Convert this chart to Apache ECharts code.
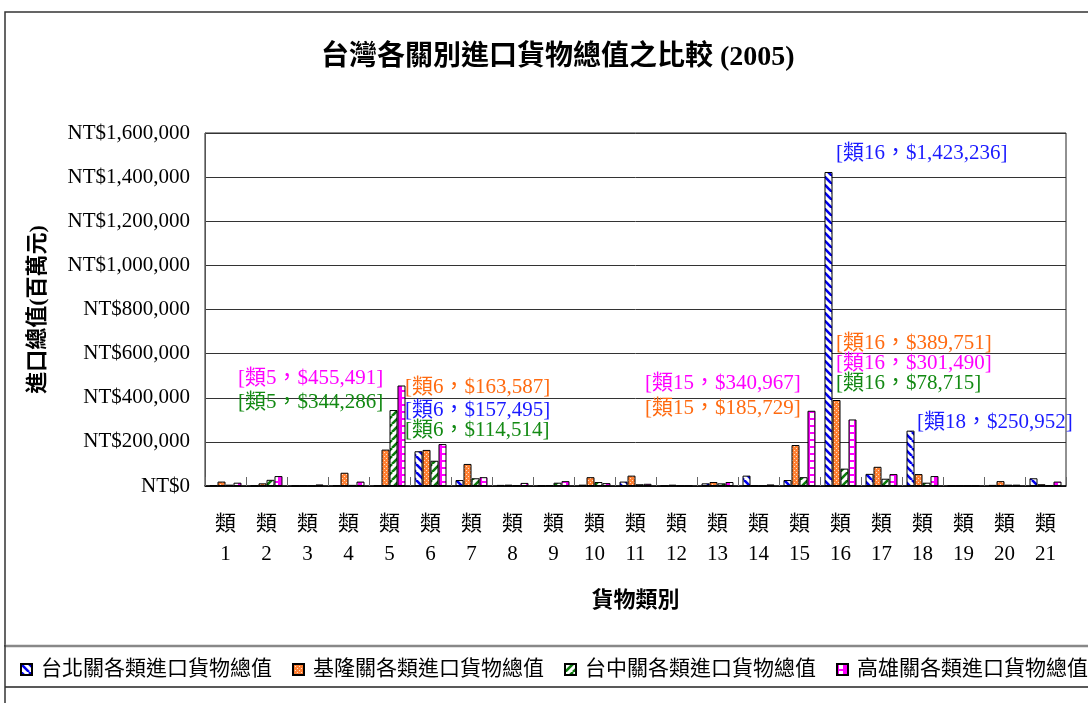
<!DOCTYPE html>
<html>
<head>
<meta charset="utf-8">
<script src="https://cdn.jsdelivr.net/npm/echarts@6/dist/echarts.min.js"></script>
<style>
  html, body { margin: 0; padding: 0; background: #fff; }
  #chart { width: 1088px; height: 703px; }
</style>
</head>
<body>
<div id="chart"></div>
<script>
// Goods categories 1..21
const categories = ['1','2','3','4','5','6','7','8','9','10','11','12','13','14','15','16','17','18','19','20','21'];

// Import value per customs office (NT$ millions)
const taipei    = [4000, 2000, 1000, 4000, 3000, 157495, 27000, 5000, 2000, 6000, 20000, 1000, 12000, 47000, 27000, 1423236, 55000, 250952, 1000, 5000, 35000];
const keelung   = [20000, 12000, 2000, 60000, 165000, 163587, 100000, 6000, 4000, 40000, 47000, 6000, 18000, 2000, 185729, 389751, 87000, 54000, 1000, 22000, 8000];
const taichung  = [6000, 28000, 1000, 5000, 344286, 114514, 35000, 3000, 15000, 18000, 8000, 1000, 12000, 1000, 40000, 78715, 33000, 15000, 1000, 6000, 3000];
const kaohsiung = [15000, 45000, 7000, 20000, 455491, 190000, 40000, 14000, 22000, 13000, 10000, 1000, 18000, 7000, 340967, 301490, 54000, 45000, 1000, 6000, 20000];

const seriesNames = ['台北關各類進口貨物總值', '基隆關各類進口貨物總值', '台中關各類進口貨物總值', '高雄關各類進口貨物總值'];
const labelColors = ['#1a1aff', '#ff6a10', '#138a13', '#ff00ff'];

// Callout placement: [series, category index, text left x, text middle y]
const callouts = [
  [0, 15, 836, 153],
  [1, 15, 836, 343],
  [3, 15, 836, 363],
  [2, 15, 836, 383],
  [3, 4, 238, 378],
  [2, 4, 238, 402],
  [1, 5, 405, 387],
  [0, 5, 405, 410],
  [2, 5, 405, 430],
  [3, 14, 645, 383],
  [1, 14, 645, 408],
  [0, 17, 917, 422]
];

const FONT = "'Liberation Serif', 'Noto Sans CJK TC', serif";

// Fill patterns
function makeCanvas(w, h) {
  const c = document.createElement('canvas');
  c.width = w; c.height = h;
  return c;
}
function stripes(color, down) {
  const c = makeCanvas(8, 8);
  const g = c.getContext('2d');
  g.fillStyle = '#fff'; g.fillRect(0, 0, 8, 8);
  g.strokeStyle = color; g.lineWidth = 2.6;
  for (let x = -8; x <= 8; x += 8) {
    g.beginPath();
    if (down) { g.moveTo(x, 0); g.lineTo(x + 8, 8); }
    else { g.moveTo(x, 8); g.lineTo(x + 8, 0); }
    g.stroke();
  }
  return c;
}
function dots() {
  const c = makeCanvas(4, 4);
  const g = c.getContext('2d');
  g.fillStyle = '#ff8033'; g.fillRect(0, 0, 4, 4);
  g.fillStyle = '#ffe0c8';
  g.fillRect(0, 0, 1, 1); g.fillRect(2, 2, 1, 1);
  return c;
}
function ladder() {
  const c = makeCanvas(8, 7);
  const g = c.getContext('2d');
  g.fillStyle = '#ff00ff'; g.fillRect(0, 0, 8, 7);
  g.fillStyle = '#fff'; g.fillRect(2, 0, 4, 5);
  return c;
}
const fills = [
  { image: stripes('#0000ee', true), repeat: 'repeat' },
  { image: dots(), repeat: 'repeat' },
  { image: stripes('#0a7a0a', false), repeat: 'repeat' },
  { image: ladder(), repeat: 'repeat' }
];

const values = [taipei, keelung, taichung, kaohsiung];

function buildData(si) {
  return values[si].map((v, ci) => {
    const hit = callouts.some(c => c[0] === si && c[1] === ci);
    return hit ? { value: v, label: { show: true } } : v;
  });
}

const series = values.map((vals, si) => ({
  name: seriesNames[si],
  type: 'bar',
  barGap: '0%',
  barCategoryGap: '22%',
  data: buildData(si),
  itemStyle: { color: fills[si], borderColor: '#000', borderWidth: 1 },
  label: {
    show: false,
    color: labelColors[si],
    fontFamily: FONT,
    fontSize: 21,
    formatter: p => '[類' + categories[p.dataIndex] + '，$' + Number(p.value).toLocaleString('en-US') + ']'
  },
  labelLayout: function (params) {
    const c = callouts.find(d => d[0] === si && d[1] === params.dataIndex);
    if (!c) return {};
    return { x: c[2], y: c[3], align: 'left', verticalAlign: 'middle' };
  },
  emphasis: { disabled: true },
  animation: false
}));

const chart = echarts.init(document.getElementById('chart'));
chart.setOption({
  animation: false,
  backgroundColor: '#fff',
  title: {
    text: '台灣各關別進口貨物總值之比較 (2005)',
    left: 316,
    top: 39,
    textStyle: { fontFamily: FONT, fontSize: 28, fontWeight: 'bold', color: '#000' }
  },
  legend: {
    left: 20,
    top: 659,
    width: 1070,
    padding: 0,
    itemWidth: 11,
    itemHeight: 11,
    itemGap: 20,
    icon: 'rect',
    textStyle: { fontFamily: FONT, fontSize: 21, color: '#000', padding: [0, 0, 0, 4] },
    data: seriesNames
  },
  grid: {
    left: 205, right: 22, top: 133, bottom: 217,
    show: true, borderColor: '#222', borderWidth: 1
  },
  xAxis: {
    type: 'category',
    data: categories,
    name: '貨物類別',
    nameLocation: 'middle',
    nameGap: 104,
    nameTextStyle: { fontFamily: FONT, fontSize: 22, fontWeight: 'bold', color: '#000' },
    axisLine: { lineStyle: { color: '#000', width: 1.5 } },
    axisTick: { show: true, inside: true, length: 9, lineStyle: { color: '#666' } },
    axisLabel: {
      formatter: v => '類\n' + v,
      fontFamily: FONT, fontSize: 21, lineHeight: 30, color: '#000', margin: 23, interval: 0
    }
  },
  yAxis: {
    type: 'value',
    min: 0, max: 1600000, interval: 200000,
    name: '進口總值(百萬元)',
    nameLocation: 'middle',
    nameRotate: 90,
    nameGap: 156,
    nameTextStyle: { fontFamily: FONT, fontSize: 22, fontWeight: 'bold', color: '#000' },
    axisLine: { show: true, lineStyle: { color: '#555', width: 1 } },
    axisTick: { show: false },
    splitLine: { lineStyle: { color: '#333', width: 1 } },
    axisLabel: {
      formatter: v => 'NT$' + v.toLocaleString('en-US'),
      fontFamily: FONT, fontSize: 21, color: '#000', margin: 15
    }
  },
  graphic: [
    { type: 'rect', silent: true, shape: { x: 5, y: 12, width: 1100, height: 634 },
      style: { fill: 'none', stroke: '#333', lineWidth: 1.5 } },
    { type: 'line', silent: true, shape: { x1: 5, y1: 646, x2: 1088, y2: 646 },
      style: { stroke: '#888', lineWidth: 2.5 } },
    { type: 'line', silent: true, shape: { x1: 5, y1: 687, x2: 1088, y2: 687 },
      style: { stroke: '#222', lineWidth: 1.5 } },
    { type: 'line', silent: true, shape: { x1: 5, y1: 645, x2: 5, y2: 703 },
      style: { stroke: '#333', lineWidth: 1.5 } }
  ],
  series: series
});
</script>
</body>
</html>
